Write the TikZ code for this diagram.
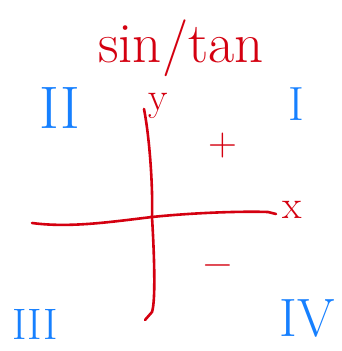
\documentclass[tikz,border=0pt]{standalone}
\usepackage{fontspec}
\definecolor{penred}{RGB}{212,0,16}
\definecolor{penblue}{RGB}{22,128,255}
\begin{document}
\begin{tikzpicture}[x=1pt,y=-1pt,
  ink/.style={draw=penred,line width=2.6pt,line cap=round,line join=round},
  redtxt/.style={text=penred,inner sep=0pt},
  bluetxt/.style={text=penblue,inner sep=0pt,font=\fontsize{60}{60}\selectfont}]
\useasboundingbox[fill=white] (0,0) rectangle (341,351);
% title
\node[redtxt,font=\fontsize{57}{57}\selectfont,anchor=base] (title) at (181,62) {sin/tan};
% quadrant numerals
\node[bluetxt] (q2) at (60,108) {II};
\node[bluetxt,font=\fontsize{48}{48}\selectfont] (q1) at (296,104) {I};
\node[bluetxt,font=\fontsize{44}{44}\selectfont] (q3) at (35,324) {III};
\node[bluetxt,font=\fontsize{54}{54}\selectfont] (q4) at (307,318) {IV};
% axes
\coordinate (xs) at (32,223);
\coordinate (o) at (152,217);
\coordinate (xe) at (276,214);
\coordinate (ys) at (144,109);
\coordinate (ye) at (145,320);
\draw[ink] (xs) .. controls (70,228) and (110,222) .. (o)
  .. controls (190,213) and (240,211) .. (268,212) -- (xe);
\draw[ink] (ys) .. controls (150,140) and (153,190) .. (o)
  .. controls (154,250) and (156,300) .. (152,312) -- (ye);
% axis labels
\node[redtxt,font=\fontsize{40}{40}\selectfont] (xl) at (292,210) {x};
\node[redtxt,font=\fontsize{40}{40}\selectfont] (yl) at (158,106) {y};
% signs
\node[redtxt,font=\fontsize{40}{40}\selectfont] (plus) at (223,146) {+};
\node[redtxt,font=\fontsize{40}{40}\selectfont] (minus) at (218,270) {−};
\end{tikzpicture}
\end{document}
